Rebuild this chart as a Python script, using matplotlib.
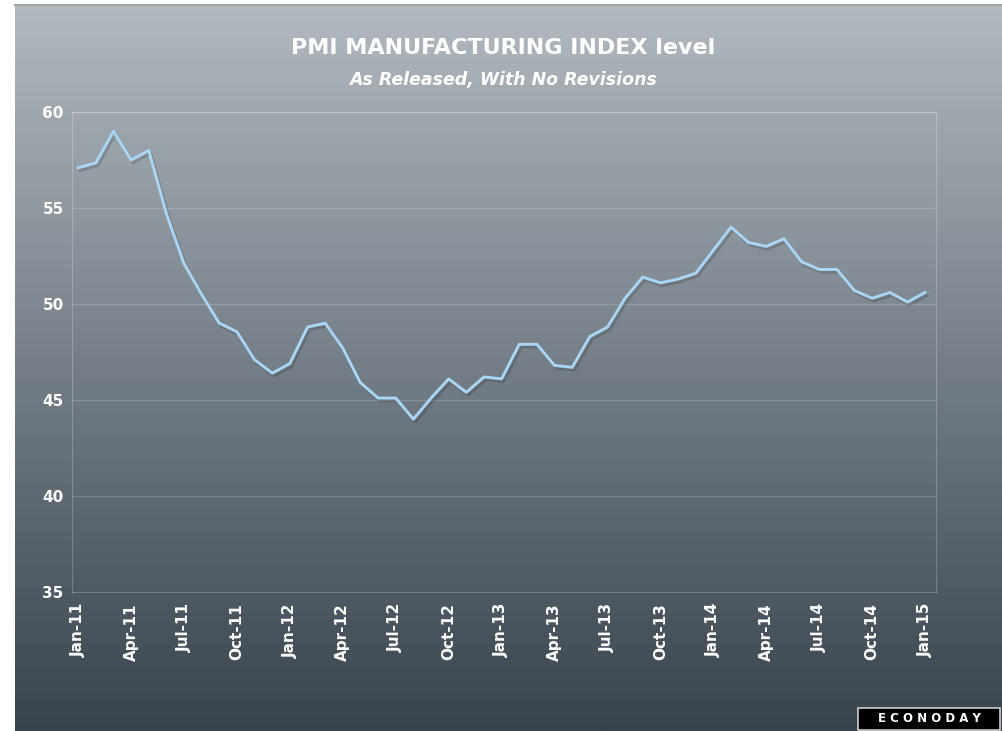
import matplotlib.pyplot as plt
import matplotlib.patheffects as pe
from matplotlib.lines import Line2D
from matplotlib.patches import Rectangle
import numpy as np

# monthly PMI, Jan-11 .. Jan-15, as released
pmi = [57.1, 57.35, 59.0, 57.5, 58.0, 54.7, 52.1, 50.5, 49.0, 48.55, 47.1, 46.4,
       46.9, 48.8, 49.0, 47.7, 45.9, 45.1, 45.1, 44.0, 45.1, 46.1, 45.4, 46.2,
       46.1, 47.9, 47.9, 46.8, 46.7, 48.3, 48.8, 50.3, 51.4, 51.1, 51.3, 51.6,
       52.8, 54.0, 53.2, 53.0, 53.4, 52.2, 51.8, 51.8, 50.7, 50.3, 50.6, 50.1,
       50.6]
tick_labels = ['Jan-11', 'Apr-11', 'Jul-11', 'Oct-11', 'Jan-12', 'Apr-12', 'Jul-12', 'Oct-12',
               'Jan-13', 'Apr-13', 'Jul-13', 'Oct-13', 'Jan-14', 'Apr-14', 'Jul-14', 'Oct-14',
               'Jan-15']
y_ticks = [35, 40, 45, 50, 55, 60]

W, H = 1002, 731
fig = plt.figure(figsize=(W / 100, H / 100), dpi=100)

# gradient panel
top = np.array([178, 185, 192]) / 255
bot = np.array([56, 67, 77]) / 255
t = np.linspace(0, 1, 256)[:, None, None]
grad = top * (1 - t) + bot * t
bg = fig.add_axes([15 / W, 0, 1 - 15 / W, 726 / H])
bg.imshow(grad, aspect='auto', extent=[0, 1, 0, 1])
bg.axis('off')
fig.add_artist(Line2D([15 / W, 1], [726 / H, 726 / H], color='#a2a2a2', lw=1.5))

ax = fig.add_axes([72 / W, 1 - 592 / H, (936 - 72) / W, (592 - 112) / H])
ax.set_facecolor('none')

x = np.arange(len(pmi))
ax.plot(x, pmi, color='#a8d6f4', lw=2.1,
        path_effects=[pe.SimpleLineShadow(offset=(1.5, -2), shadow_color='black', alpha=0.15),
                      pe.Normal()])

ax.set_ylim(35, 60)
ax.set_xlim(-0.35, 48.62)
ax.set_yticks(y_ticks)
ax.set_yticklabels([str(v) for v in y_ticks], fontsize=11, fontweight='bold', color='white')
ax.set_xticks(np.arange(0, len(pmi), 3))
ax.set_xticklabels(tick_labels, rotation=90, fontsize=11, fontweight='bold', color='white')
ax.tick_params(length=0)
ax.tick_params(axis='x', pad=8)
ax.tick_params(axis='y', pad=6)
ax.grid(axis='y', color='white', alpha=0.18, lw=1)
for s in ax.spines.values():
    s.set_color('white')
    s.set_alpha(0.22)

fig.text(0.502, 1 - 48 / H, 'PMI MANUFACTURING INDEX level', ha='center', va='center',
         fontsize=16, fontweight='bold', color='white')
fig.text(0.502, 1 - 80 / H, 'As Released, With No Revisions', ha='center', va='center',
         fontsize=12.5, fontweight='bold', style='italic', color='white')

# logo
fig.add_artist(Rectangle((858 / W, 1 / H), 142 / W, 22 / H, transform=fig.transFigure,
                         facecolor='black', edgecolor='#cccccc', lw=1.2))
fig.text(929 / W, 12 / H, 'E C O N O D A Y', ha='center', va='center',
         fontsize=8.5, fontweight='bold', color='white')

fig.savefig('out.png', dpi=100)
